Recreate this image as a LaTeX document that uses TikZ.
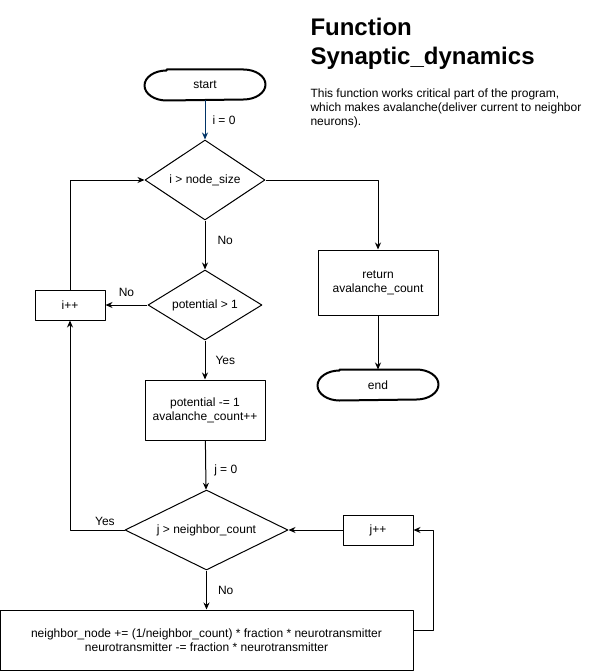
\documentclass[tikz,border=0pt]{standalone}
\usepackage{fontspec}
\setmainfont{Liberation Sans}
\usetikzlibrary{arrows.meta,shapes.geometric}

\definecolor{flowblue}{RGB}{0,51,102}

\tikzset{
  terminal/.style={rectangle, minimum width=120, minimum height=30},
  decision/.style={draw, diamond, aspect=2, inner sep=0pt},
  process/.style={draw, rectangle, align=center, inner sep=0pt},
  lbl/.style={inner sep=0pt}
}
% outline of a start/end node, with elliptic ends
\newcommand{\termoutline}[1]{%
  \draw[line width=2pt] ([xshift=22pt]#1.north west) -- ([xshift=-22pt]#1.north east)
    arc[start angle=90, end angle=-90, x radius=22pt, y radius=15pt]
    -- ([xshift=22pt]#1.south west)
    arc[start angle=270, end angle=90, x radius=22pt, y radius=15pt] -- cycle;}

\begin{document}
\begin{tikzpicture}[line width=1pt, line join=round, >={Stealth[length=7pt,width=6pt]}, x=1pt, y=-1pt,
    font=\fontsize{12}{14}\selectfont]
  \useasboundingbox (0,0) rectangle (597,671);

  % title and note
  \node[anchor=north west, align=left, inner sep=0pt, font=\bfseries\fontsize{24}{29}\selectfont] (title) at (310,18)
    {Function\\Synaptic\_dynamics};
  \node[anchor=north west, align=left, inner sep=0pt] (note) at (310,88)
    {This function works critical part of the program,\\which makes avalanche(deliver current to neighbor\\neurons).};

  % nodes
  \node[terminal] (start) at (205,85) {start};
  \termoutline{start}
  \node[decision, minimum width=120, minimum height=80] (test_i) at (205,180) {i > node\_size};
  \node[decision, minimum width=114, minimum height=70] (test_pot) at (205,305) {potential > 1};
  \node[process, minimum width=70, minimum height=30] (inc_i) at (70,305) {i++};
  \node[process, minimum width=120, minimum height=60] (update_pot) at (205,410) {potential -= 1\\avalanche\_count++};
  \node[decision, minimum width=163, minimum height=80] (test_j) at (206.5,530) {j > neighbor\_count};
  \node[process, minimum width=70, minimum height=30] (inc_j) at (378,530) {j++};
  \node[process, minimum width=413, minimum height=60] (spread) at (206.5,640)
    {neighbor\_node += (1/neighbor\_count) * fraction * neurotransmitter\\neurotransmitter -= fraction * neurotransmitter};
  \node[process, minimum width=120, minimum height=65] (ret) at (378,282.5) {return\\avalanche\_count};
  \node[terminal] (stop) at (378,385) {end};
  \termoutline{stop}

  % connectors
  \draw[->, flowblue] (start) -- node[right=7pt, lbl, text=black] {i = 0} (test_i);
  \draw[->] (test_i.east) -| (ret.north);
  \draw[->] (ret) -- (stop);
  \draw[->] (test_i) -- node[right=12pt, lbl, pos=0.4] {No} (test_pot);
  \draw[->] (test_pot) -- node[above=8pt, lbl] {No} (inc_i);
  \draw[->] (inc_i.north) |- (test_i.west);
  \draw[->] (test_pot) -- node[right=10pt, lbl] {Yes} (update_pot);
  \draw[->] (update_pot) -- node[right=8pt, lbl, pos=0.6] {j = 0} (test_j);
  \draw[->] (test_j.west) -| node[above=4pt, lbl, pos=0.18] {Yes} (inc_i.south);
  \draw[->] (test_j) -- node[right=11pt, lbl] {No} (spread);
  \draw[->] (spread.east |- 0,630) -- ++(20,0) |- (inc_j.east);
  \draw[->] (inc_j) -- (test_j);
\end{tikzpicture}
\end{document}
